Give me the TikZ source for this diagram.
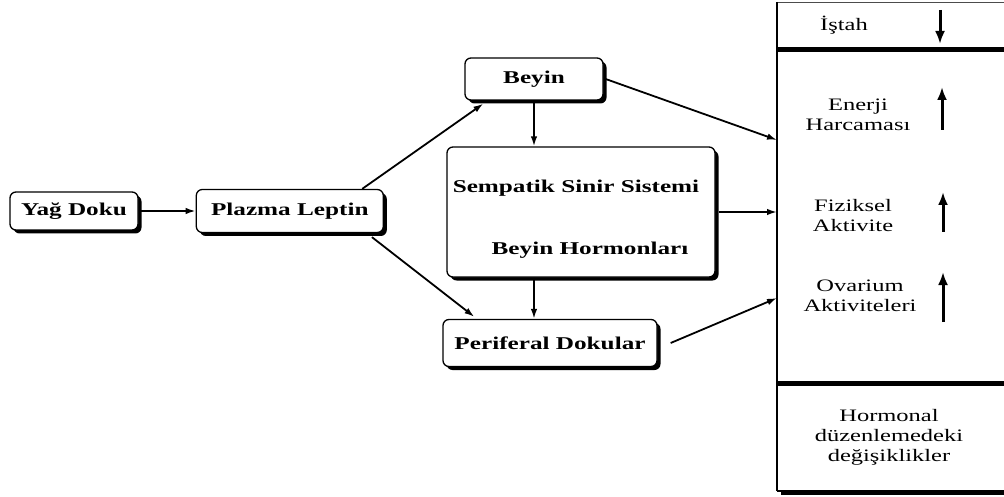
\documentclass[tikz,border=0pt]{standalone}
\usepackage{fontspec}
\setmainfont{Liberation Serif}[FakeStretch=1.4]
\usetikzlibrary{positioning,calc,shadows,arrows.meta}
\tikzset{
kutu/.style={draw=black,line width=1.3pt,rounded corners=6pt,fill=white,inner sep=0pt,
font=\fontsize{18}{20}\selectfont\bfseries,
general shadow={fill=black,shadow xshift=3.5pt,shadow yshift=-3.5pt}},
yazi/.style={font=\fontsize{18}{20}\selectfont\bfseries,inner sep=0pt},
etiket/.style={font=\fontsize{17.5}{20}\selectfont,align=center,inner sep=0pt},
ok/.style={-{Latex[length=10pt,width=6.5pt]},line width=1.8pt},
seviye/.style={-{Latex[length=13pt,width=10pt]},line width=3pt},
ayrac/.style={line width=5pt}
}

\begin{document}
\begin{tikzpicture}[x=1pt,y=-1pt]
\useasboundingbox (0,0) rectangle (1004,497);
% sol taraf
\node[kutu,minimum width=128pt,minimum height=38pt] (yag) at (74,211) {Yağ Doku};
\node[kutu,minimum width=187pt,minimum height=43pt,right=57pt of yag] (plazma) {Plazma Leptin};
\node[kutu,minimum width=138pt,minimum height=42pt] (beyin) at (534,79) {Beyin};
\node[kutu,minimum width=268pt,minimum height=130pt] (merkez) at (581,212) {};
\node[yazi] (sempatik) at (576,188) {Sempatik Sinir Sistemi};
\node[yazi] (hormon) at (590,250) {Beyin Hormonları};
\node[kutu,minimum width=214pt,minimum height=47pt] (periferal) at (550,343) {Periferal Dokular};
% sag panel
\node[draw=black!70,line width=1.2pt,fill=white,minimum width=240pt,minimum height=488pt,anchor=north west,
general shadow={fill=black,shadow xshift=3pt,shadow yshift=-4pt}] (panel) at (777,2) {};
\draw[line width=2.5pt] (panel.north west) -- (panel.south west);
\draw[line width=2pt] (panel.south west) -- (panel.south east);
\draw[ayrac] (panel.west |- 0,50) -- (panel.east |- 0,50);
\draw[ayrac] (panel.west |- 0,383) -- (panel.east |- 0,383);
\node[etiket] (istah) at (844,25) {İştah};
\node[etiket] (enerji) at (858,115) {Enerji\\Harcaması};
\node[etiket] (fiziksel) at (853,216) {Fiziksel\\Aktivite};
\node[etiket] (ovarium) at (860,296) {Ovarium\\Aktiviteleri};
\node[etiket] (degisim) at (889,437) {Hormonal\\düzenlemedeki\\değişiklikler};
\draw[seviye] (940,10) -- (940,44);
\draw[seviye] (942,130) -- (942,87);
\draw[seviye] (943,232) -- (943,192);
\draw[seviye] (943,322) -- (943,272);
% baglantilar
\coordinate (g1) at (panel.west |- 0,140);
\coordinate (g2) at (panel.west |- merkez.east);
\coordinate (g3) at (panel.west |- 0,298);
\draw[ok] (yag.east) -- (plazma.west);
\draw[ok] (plazma.17) -- ([xshift=19pt,yshift=-3pt]beyin.south west);
\draw[ok] ([xshift=-12pt,yshift=-4pt]plazma.south east) -- ([xshift=32pt,yshift=2pt]periferal.north west);
\draw[ok] (beyin.south) -- (beyin.south |- merkez.north);
\draw[ok] (beyin.south |- merkez.south) -- (beyin.south |- periferal.north);
\draw[ok] ([xshift=2pt]beyin.east) -- (g1);
\draw[ok] ([xshift=3pt]merkez.east) -- (g2);
\draw[ok] ([xshift=13pt]periferal.east) -- (g3);
\end{tikzpicture}
\end{document}
